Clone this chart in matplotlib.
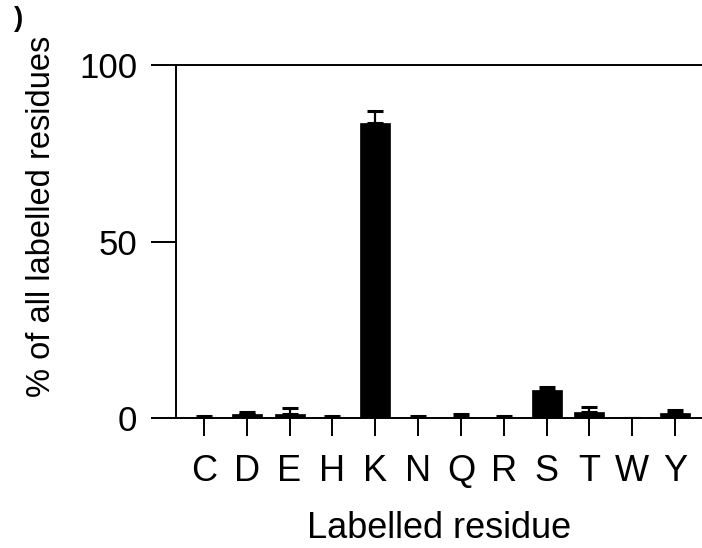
import numpy as np
import matplotlib.pyplot as plt

plt.rcParams['font.family'] = ['Liberation Sans', 'DejaVu Sans']

# residues and labelling percentages (mean, upper error)
residues = ['C', 'D', 'E', 'H', 'K', 'N', 'Q', 'R', 'S', 'T', 'W', 'Y']
percent = [0.1, 1.0, 1.2, 0.1, 83.5, 0.1, 0.2, 0.1, 8.0, 1.8, 0.0, 1.3]
err_up = [0.5, 0.7, 1.5, 0.5, 3.5, 0.5, 0.8, 0.5, 0.8, 1.2, 0.0, 1.1]
y_ticks = [0, 50, 100]

fig = plt.figure(figsize=(7.02, 5.48), dpi=100)
ax = fig.add_axes([0.2507, 0.2372, 0.7507, 0.6442])

x = np.arange(len(residues))
ax.bar(x, percent, width=0.7, color='black', edgecolor='black', linewidth=0.5,
       yerr=[np.zeros(len(percent)), err_up], capsize=5.8,
       error_kw=dict(ecolor='black', elinewidth=1.6, capthick=2.2))

ax.set_xlim(-0.65, 11.65)
ax.set_ylim(0, 100)
ax.set_xticks(x)
ax.set_xticklabels(residues)
ax.set_yticks(y_ticks)

for side in ['left', 'bottom', 'top']:
    ax.spines[side].set_linewidth(1.4)
ax.spines['right'].set_visible(False)

ax.tick_params(axis='y', length=18, width=1.4, pad=10, labelsize=25)
ax.tick_params(axis='x', length=13, width=1.4, pad=13, labelsize=26)

ax.set_xlabel('Labelled residue', fontsize=26, labelpad=16)
ax.set_ylabel('% of all labelled residues', fontsize=23.5)
ax.yaxis.set_label_coords(-0.226, 0.572)

# cropped panel letter in the corner
fig.text(0.02, 0.965, ')', fontsize=20, fontweight='bold', ha='left', va='center')

fig.savefig('out.png', dpi=100)
